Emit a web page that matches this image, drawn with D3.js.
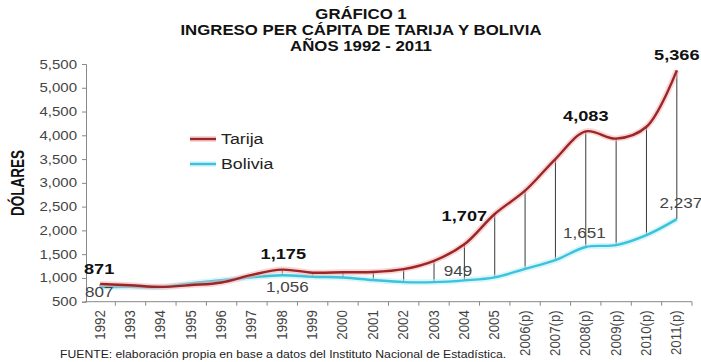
<!DOCTYPE html>
<html>
<head>
<meta charset="utf-8">
<script src="https://cdn.jsdelivr.net/npm/d3@7/dist/d3.min.js"></script>
<style>
  html, body { margin: 0; padding: 0; background: #fff; }
  svg { display: block; font-family: Arial, "Liberation Sans", sans-serif; }
</style>
</head>
<body>
<svg id="chart" width="701" height="362"></svg>
<script>
// Ingreso per cápita (USD), Tarija y Bolivia, 1992-2011
const years = ["1992","1993","1994","1995","1996","1997","1998","1999","2000","2001",
               "2002","2003","2004","2005","2006(p)","2007(p)","2008(p)","2009(p)","2010(p)","2011(p)"];
const tarija = [871, 845, 812, 850, 905, 1065, 1175, 1110, 1120, 1125,
                1185, 1360, 1707, 2345, 2835, 3500, 4083, 3930, 4180, 5366];
const bolivia = [807, 815, 808, 890, 950, 1015, 1056, 1025, 1010, 955,
                 912, 912, 949, 1013, 1190, 1375, 1651, 1690, 1900, 2237];
const yTicks = [500, 1000, 1500, 2000, 2500, 3000, 3500, 4000, 4500, 5000, 5500];

// Values that carry a printed label (index into the series)
const tarijaLabels = [0, 6, 12, 16, 19];
const boliviaLabels = [0, 6, 12, 16, 19];

const svg = d3.select("#chart");
const fmt = d3.format(",");

const x = d3.scaleBand().domain(years).range([85, 692]);
const xc = d => x(d) + x.bandwidth() / 2;
const y = d3.scaleLinear().domain([500, 5500]).range([301.7, 64]);

// Text drawn with a slight horizontal widening
function wideText(parent, tx, ty, sx, str, opts) {
  const t = parent.append("text")
    .attr("transform", `translate(${tx},${ty}) scale(${sx},1)`)
    .text(str);
  Object.entries(opts).forEach(([k, v]) => t.attr(k, v));
  return t;
}

// Titles
const titles = ["GRÁFICO 1", "INGRESO PER CÁPITA DE TARIJA Y BOLIVIA", "AÑOS 1992 - 2011"];
const tg = svg.append("g");
titles.forEach((s, i) => wideText(tg, 361, 19 + i * 16, 1.12, s,
  {"text-anchor": "middle", "font-size": 15, "font-weight": "bold", "fill": "#111"}));

// Y axis
const yAxis = svg.append("g").attr("transform", "translate(86,0)")
  .call(d3.axisLeft(y).tickValues(yTicks).tickFormat(() => "").tickSize(4));
yAxis.select(".domain").attr("stroke", "#888");
yAxis.selectAll(".tick line").attr("stroke", "#888");
const yl = svg.append("g");
yTicks.forEach(v => wideText(yl, 77, y(v) + 4.5, 1.2, fmt(v),
  {"text-anchor": "end", "font-size": 12.5, "fill": "#444"}));

// X axis with ticks on band boundaries
const xAxisG = svg.append("g").attr("transform", "translate(0,301.7)");
xAxisG.append("line").attr("x1", 85).attr("x2", 692).attr("stroke", "#888");
xAxisG.selectAll("line.tk").data(years).join("line").attr("class", "tk")
  .attr("x1", d => x(d) + x.bandwidth()).attr("x2", d => x(d) + x.bandwidth())
  .attr("y1", 0).attr("y2", 4).attr("stroke", "#888");
xAxisG.selectAll("text").data(years).join("text")
  .attr("transform", d => `translate(${xc(d) + 4.5},8.5) scale(1.1,1) rotate(-90)`)
  .attr("text-anchor", "end")
  .attr("font-size", 13.3).attr("fill", "#444")
  .text(d => d);

// Y axis title
svg.append("text")
  .attr("transform", "translate(24,183) scale(1.3,1) rotate(-90)")
  .attr("text-anchor", "middle")
  .attr("font-size", 13.5).attr("font-weight", "bold").attr("fill", "#111")
  .text("DÓLARES");

// Drop lines between the two series
svg.append("g").selectAll("line").data(years).join("line")
  .attr("x1", xc).attr("x2", xc)
  .attr("y1", (d, i) => y(tarija[i])).attr("y2", (d, i) => y(bolivia[i]))
  .attr("stroke", "#222").attr("stroke-width", 0.9);

// Smoothed series with a soft glow
const line = d3.line().x((d, i) => xc(years[i])).y(d => y(d)).curve(d3.curveCatmullRom.alpha(0.5));
function drawSeries(values, glow, core) {
  const g = svg.append("g");
  g.append("path").attr("d", line(values)).attr("fill", "none")
    .attr("stroke", glow).attr("stroke-width", 6).attr("stroke-opacity", 0.55)
    .attr("stroke-linejoin", "round");
  g.append("path").attr("d", line(values)).attr("fill", "none")
    .attr("stroke", core).attr("stroke-width", 2.4).attr("stroke-linejoin", "round");
}
drawSeries(bolivia, "#b8eef8", "#3cc2da");
drawSeries(tarija, "#f6b3b3", "#9a2628");

// Value labels
const tOffsets = [[-1, -10], [1, -10.5], [0, -23], [0, -10], [0, -10]];
const tl = svg.append("g");
tarijaLabels.forEach((d, k) => wideText(tl, xc(years[d]) + tOffsets[k][0], y(tarija[d]) + tOffsets[k][1],
  1.3, fmt(tarija[d]), {"text-anchor": "middle", "font-size": 14, "font-weight": "bold", "fill": "#111"}));

const bOffsets = [[-1, 10], [5, 17], [-6.5, -4.4], [-1.5, -9], [4, -11]];
const bl = svg.append("g");
boliviaLabels.forEach((d, k) => wideText(bl, xc(years[d]) + bOffsets[k][0], y(bolivia[d]) + bOffsets[k][1],
  1.22, fmt(bolivia[d]), {"text-anchor": "middle", "font-size": 14, "fill": "#444"}));

// Legend
const legend = [["Tarija", "#f6b3b3", "#9a2628", 139], ["Bolivia", "#b8eef8", "#3cc2da", 164]];
const lg = svg.append("g");
legend.forEach(([name, glow, core, ly]) => {
  lg.append("line").attr("x1", 190).attr("x2", 216).attr("y1", ly).attr("y2", ly)
    .attr("stroke", glow).attr("stroke-width", 6).attr("stroke-opacity", 0.55);
  lg.append("line").attr("x1", 190).attr("x2", 216).attr("y1", ly).attr("y2", ly)
    .attr("stroke", core).attr("stroke-width", 2.4);
  wideText(lg, 221, ly + 5, 1.27, name, {"font-size": 14, "fill": "#222"});
});

// Source note
wideText(svg, 60, 358, 1.11, "FUENTE: elaboración propia en base a datos del Instituto Nacional de Estadística.",
  {"font-size": 11, "fill": "#222"});
</script>
</body>
</html>
